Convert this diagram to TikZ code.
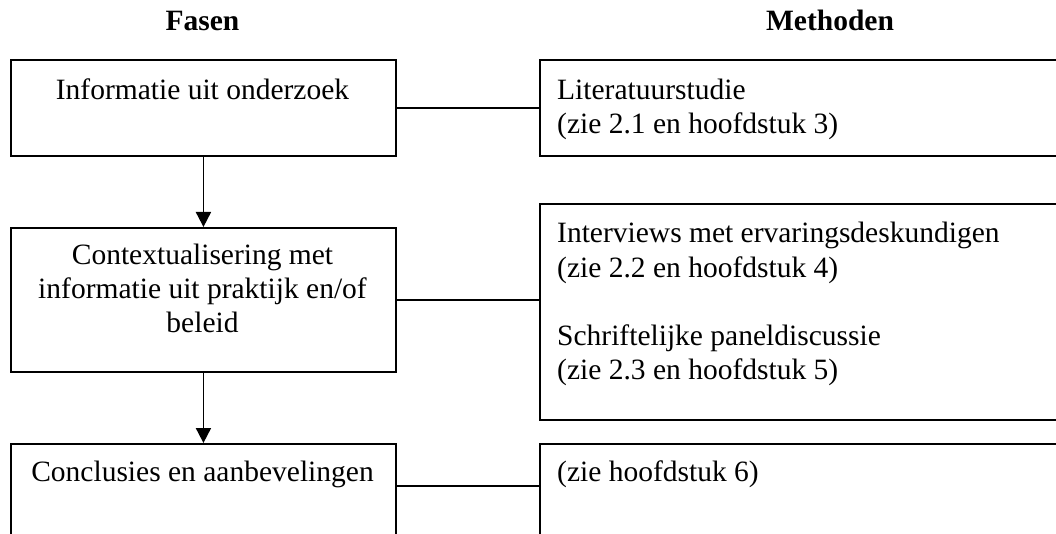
\documentclass[tikz,border=0pt]{standalone}
\usepackage{fontspec}
\setmainfont{Liberation Serif}
\usetikzlibrary{arrows.meta}
\begin{document}
\begin{tikzpicture}[x=1pt,y=-1pt,
  box/.style={draw, line width=1.9pt, inner sep=0pt, minimum width=#1},
  txt/.style={font=\fontsize{29.5}{34}\selectfont, inner sep=0pt},
  ttl/.style={font=\fontsize{29.5}{34}\selectfont\bfseries, inner sep=0pt, anchor=base},
  conn/.style={line width=1.9pt},
  arr/.style={line width=1.9pt, -{Triangle[width=15pt,length=15pt]}}]
\useasboundingbox (0,0) rectangle (1056,534);
\clip (0,0) rectangle (1056,534);
% titles
\node[ttl] (hf) at (202.5,31) {Fasen};
\node[ttl] (hm) at (830,31) {Methoden};
% phase boxes
\node[box=385pt, minimum height=96pt, anchor=north west] (f1) at (10,59) {};
\node[box=385pt, minimum height=144pt, anchor=north west] (f2) at (10,227) {};
\node[box=385pt, minimum height=150pt, anchor=north west] (f3) at (10,443) {};
% method boxes
\node[box=600pt, minimum height=96pt, anchor=north west] (m1) at (539,59) {};
\node[box=600pt, minimum height=216pt, anchor=north west] (m2) at (539,203) {};
\node[box=600pt, minimum height=150pt, anchor=north west] (m3) at (539,443) {};
% texts (base anchor = baseline of the last line)
\node[txt, anchor=base] (f1t) at (202.5,100) {Informatie uit onderzoek};
\node[txt, anchor=base, align=center] (f2t) at (202.5,332) {Contextualisering met\\informatie uit praktijk en/of\\beleid};
\node[txt, anchor=base] (f3t) at (202.5,481) {Conclusies en aanbevelingen};
\node[txt, anchor=base west, align=left] (m1t) at (557,134) {Literatuurstudie\\(zie 2.1 en hoofdstuk 3)};
\node[txt, anchor=base west, align=left] (m2a) at (557,277) {Interviews met ervaringsdeskundigen\\(zie 2.2 en hoofdstuk 4)};
\node[txt, anchor=base west, align=left] (m2b) at (557,379) {Schriftelijke paneldiscussie\\(zie 2.3 en hoofdstuk 5)};
\node[txt, anchor=base west] (m3t) at (557,481) {(zie hoofdstuk 6)};
% connectors
\draw[conn] (f1) -- (m1);
\draw[conn] (f2.east) -- (f2.east -| m2.west);
\coordinate (c3) at (395,486);
\draw[conn] (c3) -- (c3 -| m3.west);
\draw[arr] (f1.south) -- (f2.north);
\draw[arr] (f2.south) -- (f3.north);
\end{tikzpicture}
\end{document}
